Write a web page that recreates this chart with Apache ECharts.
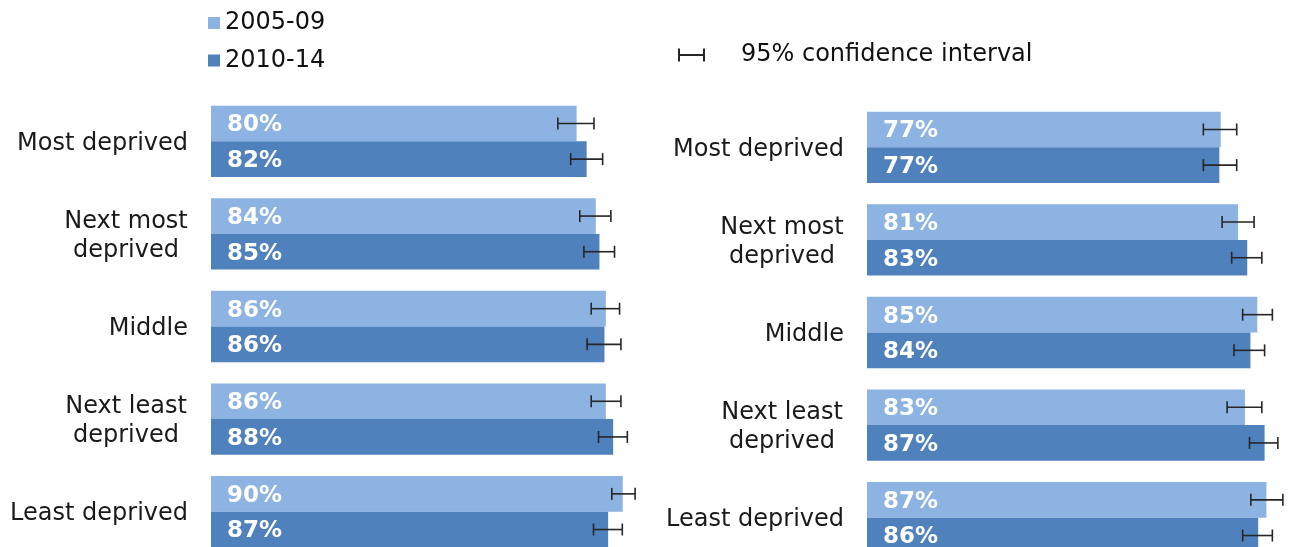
<!DOCTYPE html>
<html>
<head>
<meta charset="utf-8">
<script src="https://cdn.jsdelivr.net/npm/echarts@6/dist/echarts.min.js"></script>
<style>
html,body{margin:0;padding:0;background:#fff;overflow:hidden;width:1289px;height:547px;}
#chart{width:1400px;height:600px;}
</style>
</head>
<body>
<div id="chart"></div>
<script>
// ---- data ----
var categories = ['Most deprived', 'Next most\ndeprived', 'Middle', 'Next least\ndeprived', 'Least deprived'];
var periods = ['2005-09', '2010-14'];
var ciName = '95% confidence interval';

// left panel
var left2005 = [80.0, 84.2, 86.4, 86.4, 90.1];
var left2010 = [82.2, 85.0, 86.1, 88.0, 86.9];
var left2005Lo = [75.9, 80.7, 83.2, 83.2, 87.7];
var left2005Hi = [83.8, 87.5, 89.4, 89.7, 92.8];
var left2010Lo = [78.7, 81.6, 82.3, 84.8, 83.7];
var left2010Hi = [85.7, 88.3, 89.7, 91.1, 90.0];

// right panel
var right2005 = [77.4, 81.2, 85.4, 82.7, 87.4];
var right2010 = [77.1, 83.2, 83.9, 87.0, 85.6];
var right2005Lo = [73.6, 77.7, 82.2, 78.8, 84.0];
var right2005Hi = [80.9, 84.7, 88.7, 86.4, 91.0];
var right2010Lo = [73.6, 79.8, 80.3, 83.7, 82.2];
var right2010Hi = [80.9, 86.4, 87.0, 89.9, 88.7];

// ---- styles ----
var colLight = '#8DB3E2';
var colDark = '#4F81BD';
var errColor = '#262626';
var FONT = 'DejaVu Sans';
var CAT_GAP = 0.23;

function ciData(lo, hi) {
  return lo.map(function (v, i) { return [v, hi[i], i]; });
}

function makeErr(gridIdx, lo, hi, side) {
  return {
    type: 'custom',
    name: ciName,
    xAxisIndex: gridIdx,
    yAxisIndex: gridIdx,
    itemStyle: { color: errColor },
    encode: { x: [0, 1], y: 2 },
    z: 5,
    silent: true,
    data: ciData(lo, hi),
    renderItem: function (params, api) {
      var cat = api.value(2);
      var p0 = api.coord([api.value(0), cat]);
      var p1 = api.coord([api.value(1), cat]);
      var band = api.size([0, 1])[1];
      var bw = band * (1 - CAT_GAP) / 2;
      var y = p0[1] + side * bw / 2;
      var h = 6;
      var st = { stroke: errColor, lineWidth: 1.6, fill: null };
      return {
        type: 'group',
        children: [
          { type: 'line', shape: { x1: p0[0], y1: y, x2: p1[0], y2: y }, style: st },
          { type: 'line', shape: { x1: p0[0], y1: y - h, x2: p0[0], y2: y + h }, style: st },
          { type: 'line', shape: { x1: p1[0], y1: y - h, x2: p1[0], y2: y + h }, style: st }
        ]
      };
    }
  };
}

function makeBar(gridIdx, name, data, color) {
  return {
    type: 'bar',
    name: name,
    xAxisIndex: gridIdx,
    yAxisIndex: gridIdx,
    data: data,
    barGap: '0%',
    barCategoryGap: (CAT_GAP * 100) + '%',
    itemStyle: { color: color },
    label: {
      show: true,
      position: 'insideLeft',
      distance: 16,
      offset: [0, 2],
      color: '#ffffff',
      fontFamily: FONT,
      fontWeight: 'bold',
      fontSize: 23,
      formatter: function (p) { return Math.round(p.value) + '%'; }
    }
  };
}

function yAxisFor(gridIdx) {
  return {
    type: 'category',
    gridIndex: gridIdx,
    data: categories,
    inverse: true,
    axisLine: { show: false },
    axisTick: { show: false },
    axisLabel: {
      margin: 23,
      color: '#1a1a1a',
      fontFamily: FONT,
      fontSize: 24,
      lineHeight: 29,
      align: 'right',
      padding: [4, 0, 0, 0],
      formatter: function (v) {
        if (v.indexOf('\n') < 0) return v;
        return v.split('\n').map(function (s) { return '{c|' + s + '}'; }).join('\n');
      },
      rich: {
        c: { width: 124, align: 'center', fontFamily: FONT, fontSize: 24, lineHeight: 29, color: '#1a1a1a' }
      }
    }
  };
}

function xAxisFor(gridIdx) {
  return {
    type: 'value',
    gridIndex: gridIdx,
    min: 0,
    max: 100,
    show: false,
    splitLine: { show: false }
  };
}

var chart = echarts.init(document.getElementById('chart'));
chart.setOption({
  backgroundColor: '#ffffff',
  animation: false,
  legend: [
    {
      data: periods,
      orient: 'vertical',
      left: 208,
      top: 11,
      padding: 0,
      itemGap: 13.5,
      itemWidth: 12,
      itemHeight: 12,
      icon: 'rect',
      textStyle: { fontFamily: FONT, fontSize: 24, lineHeight: 24, color: '#111' }
    },
    {
      data: [{ name: ciName, icon: 'path://M0,0h2v13h-2z M2,5.5h23v2h-23z M25,0h2v13h-2z' }],
      left: 678,
      top: 43,
      padding: 0,
      itemWidth: 27,
      itemHeight: 13,
      textStyle: { fontFamily: FONT, fontSize: 24, lineHeight: 24, color: '#111', padding: [0, 0, 0, 31] }
    }
  ],
  grid: [
    { left: 211, top: 95, width: 457, height: 463 },
    { left: 867, top: 101, width: 457, height: 463 }
  ],
  xAxis: [xAxisFor(0), xAxisFor(1)],
  yAxis: [yAxisFor(0), yAxisFor(1)],
  series: [
    makeBar(0, periods[0], left2005, colLight),
    makeBar(0, periods[1], left2010, colDark),
    makeBar(1, periods[0], right2005, colLight),
    makeBar(1, periods[1], right2010, colDark),
    makeErr(0, left2005Lo, left2005Hi, -1),
    makeErr(0, left2010Lo, left2010Hi, 1),
    makeErr(1, right2005Lo, right2005Hi, -1),
    makeErr(1, right2010Lo, right2010Hi, 1)
  ]
});
</script>
</body>
</html>
